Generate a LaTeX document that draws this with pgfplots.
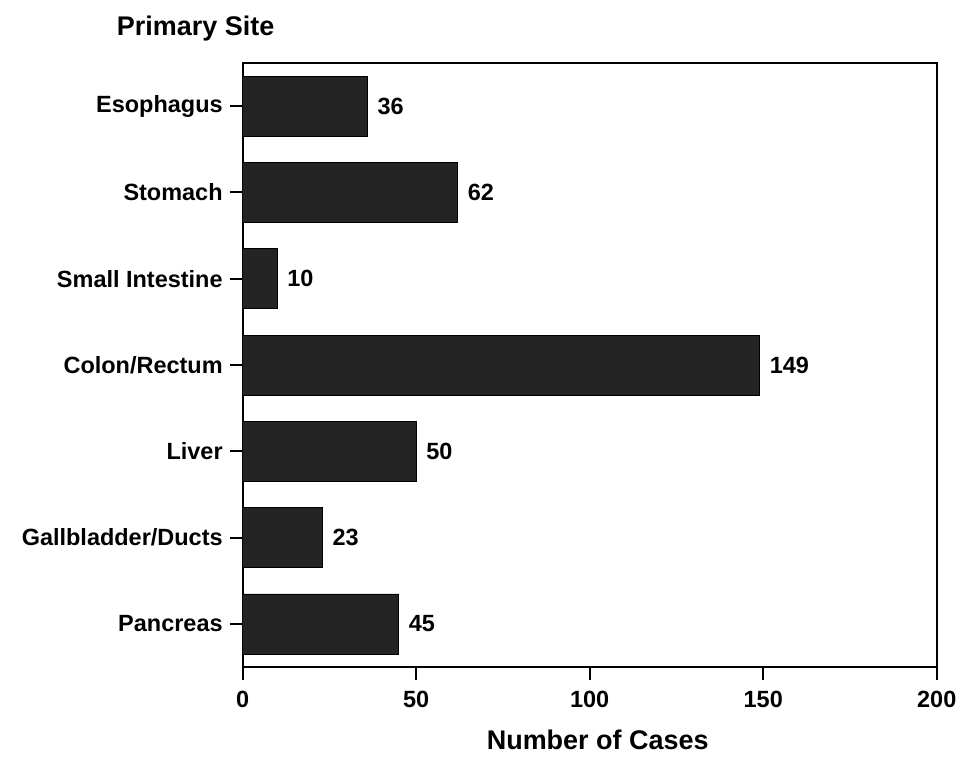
\documentclass[border=0pt]{standalone}
\usepackage{fontspec}
\setmainfont{Liberation Sans}
\usepackage{pgfplots}
\pgfplotsset{compat=1.18}

\begin{document}
\begin{tikzpicture}
  \begin{axis}[
    scale only axis,
    width=347.5pt, height=302.5pt,
    xbar, bar width=30pt,
    xmin=0, xmax=200,
    ymin=-0.5, ymax=6.5,
    xtick={0,50,100,150,200},
    ytick={0,1,2,3,4,5,6},
    yticklabels={Pancreas,Gallbladder/Ducts,Liver,Colon/Rectum,Small Intestine,Stomach,Esophagus},
    xtick pos=left, ytick pos=left,
    tick align=outside,
    major tick length=6.5pt,
    every tick/.style={black, line width=1pt},
    axis line style={line width=1pt},
    /pgf/number format/assume math mode=true,
    ticklabel style={font=\fontsize{11.75}{13}\selectfont\bfseries},
    xticklabel style={yshift=-2pt},
    nodes near coords,
    nodes near coords align={horizontal},
    nodes near coords style={font=\fontsize{11.75}{13}\selectfont\bfseries, xshift=1.5pt},
  ]
    \addplot[draw=black, fill=black!86] coordinates {
      (45,0) (23,1) (50,2) (149,3) (10,4) (62,5) (36,6)
    };
  \end{axis}
  \node[anchor=west, font=\fontsize{13.5}{15}\selectfont\bfseries]
    at ([xshift=-66.5pt, yshift=17pt]current axis.north west) {Primary Site};
  \node[font=\fontsize{13.5}{15}\selectfont\bfseries]
    at ([xshift=4pt, yshift=-36.5pt]current axis.south) {Number of Cases};
  \path ([shift={(-121.5pt,-43.5pt)}]current axis.south west)
    rectangle ([shift={(12.5pt,31.5pt)}]current axis.north east);
\end{tikzpicture}
\end{document}
